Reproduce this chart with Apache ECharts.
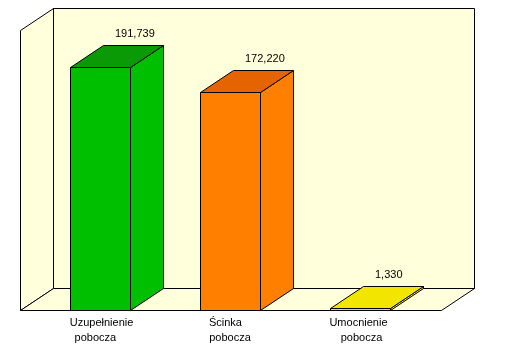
<!DOCTYPE html>
<html>
<head>
<meta charset="utf-8">
<style>
  html, body { margin: 0; padding: 0; background: #fff; }
  #main { width: 514px; height: 355px; }
</style>
<script src="https://cdn.jsdelivr.net/npm/echarts@6/dist/echarts.min.js"></script>
</head>
<body>
<div id="main"></div>
<script>
// dane
var categories = [' Uzupełnienie\npobocza   ', 'Ścinka   \npobocza', 'Umocnienie \n pobocza'];
var values = [191739, 172220, 1330];
var frontColors = ['#00BE00', '#FF8000', '#F2E600'];
var topColors = ['#0A9A05', '#E66400', '#F2E600'];

var DEPTH_X = 33, DEPTH_Y = 22, BAR_W = 60;
var WALL = '#FFFFDC';
var LINE = { stroke: '#000', lineWidth: 1 };

function poly(points, fill) {
  return {
    type: 'polygon',
    shape: { points: points },
    style: { fill: fill, stroke: LINE.stroke, lineWidth: LINE.lineWidth }
  };
}

// sciany i podloga
function renderWalls(params, api) {
  var cs = params.coordSys;
  var l = cs.x - 15 + 0.5, b = cs.y + cs.height + 0.5, t = cs.y + 0.5;
  var r = cs.x + cs.width + 16 + 0.5;
  return {
    type: 'group',
    children: [
      poly([[l + DEPTH_X, t - DEPTH_Y], [r + DEPTH_X, t - DEPTH_Y], [r + DEPTH_X, b - DEPTH_Y], [l + DEPTH_X, b - DEPTH_Y]], WALL),
      poly([[l, t], [l + DEPTH_X, t - DEPTH_Y], [l + DEPTH_X, b - DEPTH_Y], [l, b]], WALL),
      poly([[l, b], [l + DEPTH_X, b - DEPTH_Y], [r + DEPTH_X, b - DEPTH_Y], [r, b]], WALL)
    ]
  };
}

function renderBar(params, api) {
  var i = api.value(0);
  var p = api.coord([i, api.value(1)]);
  var p0 = api.coord([i, 0]);
  var x0 = p[0] - BAR_W / 2 + 0.5, x1 = x0 + BAR_W;
  var y0 = Math.round(p[1]) + 0.5, y1 = Math.round(p0[1]) + 0.5;
  return {
    type: 'group',
    children: [
      poly([[x1, y0], [x1 + DEPTH_X, y0 - DEPTH_Y], [x1 + DEPTH_X, y1 - DEPTH_Y], [x1, y1]], frontColors[i]),
      poly([[x0, y0], [x0 + DEPTH_X, y0 - DEPTH_Y], [x1 + DEPTH_X, y0 - DEPTH_Y], [x1, y0]], topColors[i]),
      poly([[x0, y0], [x1, y0], [x1, y1], [x0, y1]], frontColors[i]),
      {
        type: 'text',
        style: {
          text: api.value(1).toLocaleString('en-US'),
          x: p[0] + 15,
          y: y0 - DEPTH_Y - 12,
          align: 'left',
          verticalAlign: 'middle',
          fill: '#000',
          font: '11px "Liberation Sans"'
        }
      }
    ]
  };
}

var myChart = echarts.init(document.getElementById('main'));
var option = {
  backgroundColor: '#fff',
  animation: false,
  grid: { left: 35, top: 30, width: 390, height: 280 },
  xAxis: {
    type: 'category',
    data: categories,
    axisLine: { show: false },
    axisTick: { show: false },
    axisLabel: {
      interval: 0,
      margin: 5,
      color: '#000',
      fontFamily: 'Liberation Sans',
      fontSize: 11,
      lineHeight: 15
    }
  },
  yAxis: { type: 'value', min: 0, max: 221000, show: false, splitLine: { show: false } },
  series: [
    {
      type: 'custom',
      renderItem: renderWalls,
      clip: false,
      silent: true,
      data: [[0, 0]],
      z: 1
    },
    {
      type: 'custom',
      renderItem: renderBar,
      clip: false,
      encode: { x: 0, y: 1 },
      data: values.map(function (v, i) { return [i, v]; }),
      z: 2
    }
  ]
};
myChart.setOption(option);
</script>
</body>
</html>
